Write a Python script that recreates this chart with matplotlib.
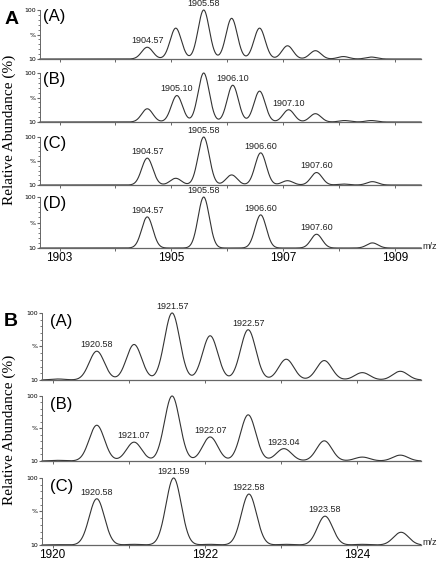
import numpy as np
import matplotlib.pyplot as plt

# ---- painel A: picos (m/z) e intensidade relativa (%) de cada espectro ----
mzA_A = [1904.57, 1905.08, 1905.58, 1906.08, 1906.58, 1907.08, 1907.58, 1908.08, 1908.58]
intA_A = [24, 63, 100, 83, 63, 27, 17, 5, 4]
mzA_B = [1904.57, 1905.10, 1905.58, 1906.10, 1906.58, 1907.10, 1907.58, 1908.10, 1908.58]
intA_B = [27, 54, 100, 75, 63, 25, 17, 3, 3]
mzA_C = [1904.57, 1905.08, 1905.58, 1906.08, 1906.60, 1907.08, 1907.60, 1908.08, 1908.60]
intA_C = [56, 14, 100, 21, 67, 9, 26, 2, 7]
mzA_D = [1904.57, 1905.58, 1906.60, 1907.60, 1908.60]
intA_D = [61, 100, 65, 27, 10]

# rotulos dos picos no painel A
rotA_A = ["1904.57", "1905.58"]
rotA_B = ["1905.10", "1906.10", "1907.10"]
rotA_C = ["1904.57", "1905.58", "1906.60", "1907.60"]
rotA_D = ["1904.57", "1905.58", "1906.60", "1907.60"]

# ---- painel B ----
mzB_A = [1920.07, 1920.58, 1921.07, 1921.57, 1922.07, 1922.57, 1923.07, 1923.57, 1924.07, 1924.57]
intB_A = [1.5, 43, 53, 100, 66, 75, 31, 29, 11, 13]
mzB_B = [1920.07, 1920.58, 1921.07, 1921.57, 1922.07, 1922.57, 1923.04, 1923.57, 1924.07, 1924.57]
intB_B = [1, 55, 29, 100, 37, 71, 19, 31, 6, 9]
mzB_C = [1920.07, 1920.58, 1921.07, 1921.59, 1922.07, 1922.58, 1923.07, 1923.58, 1924.07, 1924.58]
intB_C = [0.5, 69, 1, 100, 1, 76, 1, 43, 1, 19]

rotB_A = ["1920.58", "1921.57", "1922.57"]
rotB_B = ["1921.07", "1922.07", "1923.04"]
rotB_C = ["1920.58", "1921.59", "1922.58", "1923.58"]

ticksA = [1903, 1904, 1905, 1906, 1907, 1908, 1909]
labelsA = ["1903", "", "1905", "", "1907", "", "1909"]
ticksB = [1920, 1921, 1922, 1923, 1924]
labelsB = ["1920", "", "1922", "", "1924"]

largura = 0.1  # sigma do pico em m/z
corLinha = "#333333"
corEixo = "#666666"


def desenha(pos, mz, inten, rotulos, xlim, ticks, labels, nome, xnome, ultimo):
    ax = fig.add_axes(pos)
    x = np.linspace(xlim[0], xlim[1], 2000)
    y = np.zeros_like(x)
    for m, h in zip(mz, inten):
        y = y + h * np.exp(-(x - m) ** 2 / (2 * largura ** 2))
    ax.plot(x, y, color=corLinha, lw=0.8, clip_on=False)
    ax.set_xlim(xlim)
    ax.set_ylim(0, 100)

    # rotulos acima dos picos
    for r in rotulos:
        m = float(r)
        h = inten[int(np.argmin([abs(v - m) for v in mz]))]
        ax.annotate(r, (m, h), xytext=(0, 1.5), textcoords="offset points",
                    ha="center", va="bottom", fontsize=6.5,
                    family="Liberation Sans", color="#222222")

    ax.text(xnome, 0.87, nome, transform=ax.transAxes, fontsize=12,
            family="Liberation Sans", va="center", ha="left")

    for s in ["top", "right"]:
        ax.spines[s].set_visible(False)
    ax.spines["left"].set_color(corEixo)
    ax.spines["bottom"].set_color(corEixo)
    ax.spines["left"].set_linewidth(0.7)
    ax.spines["bottom"].set_linewidth(0.9)

    ax.set_yticks([0, 50, 100])
    ax.set_yticklabels(["10", "%", "100"], fontsize=4.5)
    ax.set_yticks(np.arange(0, 101, 10), minor=True)
    ax.tick_params(axis="y", which="major", length=2, pad=1, color=corEixo)
    ax.tick_params(axis="y", which="minor", length=1.2, color=corEixo)

    ax.set_xticks(ticks)
    if ultimo:
        ax.set_xticklabels(labels, fontsize=8.5, family="Liberation Sans")
        ax.text(1.003, 0.03, "m/z", transform=ax.transAxes, fontsize=6.5,
                family="Liberation Sans", va="center", ha="left", color="#222222")
    else:
        ax.set_xticklabels([])
    ax.tick_params(axis="x", length=2.2, pad=1, color=corEixo, width=0.7)
    return ax


fig = plt.figure(figsize=(4.4, 5.62), dpi=100)

xlimA = (1902.65, 1909.47)
xlimB = (1919.86, 1924.84)
sobe = 3 / 562  # painel B um pouco acima para caber os numeros

desenha([0.0909, 0.8950, 0.866, 0.0872], mzA_A, intA_A, rotA_A, xlimA, ticksA, labelsA, "(A)", 0.008, False)
desenha([0.0909, 0.7829, 0.866, 0.0872], mzA_B, intA_B, rotA_B, xlimA, ticksA, labelsA, "(B)", 0.008, False)
desenha([0.0909, 0.6708, 0.866, 0.0854], mzA_C, intA_C, rotA_C, xlimA, ticksA, labelsA, "(C)", 0.008, False)
desenha([0.0909, 0.5587, 0.866, 0.0907], mzA_D, intA_D, rotA_D, xlimA, ticksA, labelsA, "(D)", 0.008, True)

desenha([0.0955, 0.3185 + sobe, 0.861, 0.1246 - sobe], mzB_A, intB_A, rotB_A, xlimB, ticksB, labelsB, "(A)", 0.02, False)
desenha([0.0955, 0.1744 + sobe, 0.861, 0.1210 - sobe], mzB_B, intB_B, rotB_B, xlimB, ticksB, labelsB, "(B)", 0.02, False)
desenha([0.0955, 0.0249 + sobe, 0.861, 0.1246 - sobe], mzB_C, intB_C, rotB_C, xlimB, ticksB, labelsB, "(C)", 0.02, True)

# letras dos paineis e rotulo do eixo y
fig.text(0.027, 1 - 19 / 562, "A", fontsize=14, weight="bold", family="Liberation Sans",
         ha="center", va="center")
fig.text(0.025, 1 - 322 / 562, "B", fontsize=14, weight="bold", family="Liberation Sans",
         ha="center", va="center")
fig.text(0.02, 0.769, "Relative Abundance (%)", rotation=90, fontsize=11,
         family="Liberation Serif", ha="center", va="center")
fig.text(0.02, 0.235, "Relative Abundance (%)", rotation=90, fontsize=11,
         family="Liberation Serif", ha="center", va="center")

plt.savefig("out.png", dpi=100)
